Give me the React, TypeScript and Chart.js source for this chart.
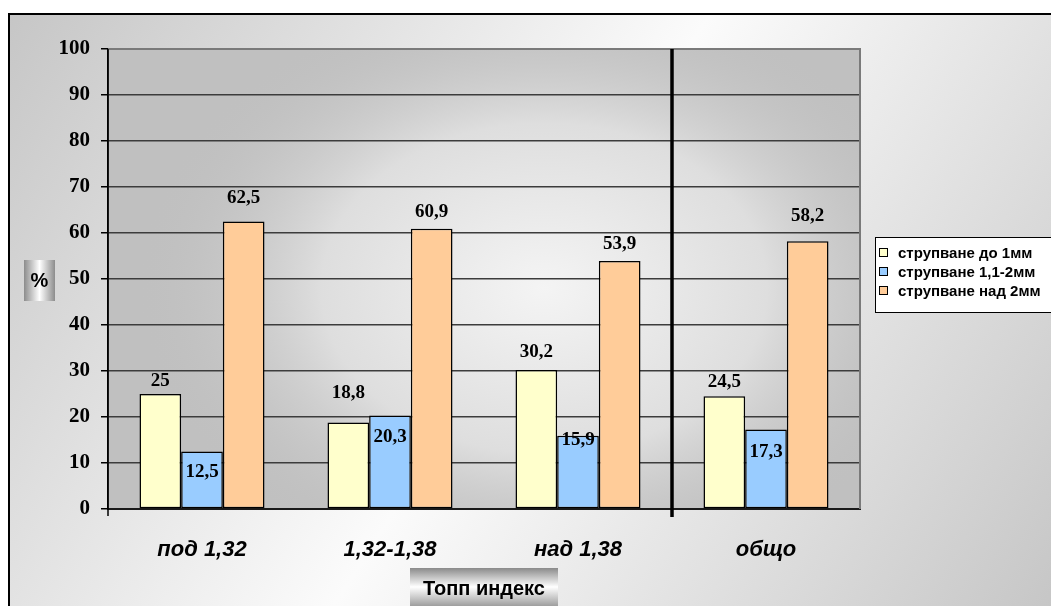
import React, { useEffect, useRef } from "react";
import { Chart, registerables } from "chart.js";

Chart.register(...registerables);

// Categories (Topp index ranges) and the share of each chipping class, %
const categories = ["под 1,32", "1,32-1,38", "над 1,38", "общо"];
const seriesNames = ["струпване до 1мм", "струпване 1,1-2мм", "струпване над 2мм"];
const upTo1mm = [25, 18.8, 30.2, 24.5];
const from1to2mm = [12.5, 20.3, 15.9, 17.3];
const over2mm = [62.5, 60.9, 53.9, 58.2];

const yMin = 0;
const yMax = 100;
const yStep = 10;

const axisTitleX = "Топп индекс";
const axisTitleY = "%";

const seriesColors = ["#FFFFCC", "#99CCFF", "#FFCC99"];

// Vertical nudges of the value labels, px from the top of each bar (+ = down)
const labelNudge = [
  [-13, -29.5, -18, -14],
  [20.5, 21.4, 4, 22.6],
  [-23.5, -17, -17, -25],
];

const SERIF = "'Liberation Serif', 'DejaVu Serif', serif";
const SANS = "'Liberation Sans', Arial, sans-serif";

const fmt = (v: number) => String(v).replace(".", ",");

const decorPlugin = {
  id: "decor",
  beforeDraw(chart: any) {
    const { ctx, width, height, chartArea: a } = chart;
    ctx.save();
    // outer chart background, diagonal gray-white-gray
    const g = ctx.createLinearGradient(8, 13, 1120, 720);
    g.addColorStop(0, "#c6c6c6");
    g.addColorStop(0.45, "#fbfbfb");
    g.addColorStop(1, "#bcbcbc");
    ctx.fillStyle = "#ffffff";
    ctx.fillRect(0, 0, width, height);
    ctx.fillStyle = g;
    ctx.fillRect(8, 13, width - 8, height - 13);
    ctx.strokeStyle = "#000";
    ctx.lineWidth = 2;
    ctx.beginPath();
    ctx.moveTo(9, height + 5);
    ctx.lineTo(9, 14);
    ctx.lineTo(width + 5, 14);
    ctx.stroke();

    // plot area: gray with a light centre
    ctx.fillStyle = "#c0c0c0";
    ctx.fillRect(a.left, a.top, a.right - a.left, a.bottom - a.top);
    ctx.beginPath();
    ctx.rect(a.left, a.top, a.right - a.left, a.bottom - a.top);
    ctx.clip();
    const cx = a.left + (a.right - a.left) * 0.58;
    const cy = a.top + (a.bottom - a.top) * 0.52;
    ctx.translate(cx, cy);
    ctx.scale(1.35, 1);
    const r = ctx.createRadialGradient(0, 0, 0, 0, 0, 300);
    r.addColorStop(0, "#f4f4f4");
    r.addColorStop(0.55, "#dedede");
    r.addColorStop(1, "rgba(192,192,192,0)");
    ctx.fillStyle = r;
    ctx.fillRect(-600, -400, 1200, 800);
    ctx.restore();
  },
  afterDatasetsDraw(chart: any) {
    const { ctx, chartArea: a, scales } = chart;
    const xs = scales.x;
    const ys = scales.y;
    ctx.save();

    // plot-area frame on top and right
    ctx.strokeStyle = "#7a7a7a";
    ctx.lineWidth = 2;
    ctx.beginPath();
    ctx.moveTo(a.left, a.top);
    ctx.lineTo(a.right, a.top);
    ctx.lineTo(a.right, a.bottom);
    ctx.stroke();

    // value axis continues slightly below zero
    ctx.strokeStyle = "#000";
    ctx.lineWidth = 1.5;
    ctx.beginPath();
    ctx.moveTo(a.left, a.top);
    ctx.lineTo(a.left, a.bottom + 7);
    ctx.stroke();

    // separator between the index groups and the total
    const sepX = (xs.getPixelForValue(2) + xs.getPixelForValue(3)) / 2;
    ctx.lineWidth = 3.5;
    ctx.beginPath();
    ctx.moveTo(sepX, a.top);
    ctx.lineTo(sepX, a.bottom + 8);
    ctx.stroke();

    // value labels
    ctx.fillStyle = "#000";
    ctx.font = `bold 19px ${SERIF}`;
    ctx.textAlign = "center";
    ctx.textBaseline = "middle";
    chart.data.datasets.forEach((ds: any, di: number) => {
      const meta = chart.getDatasetMeta(di);
      meta.data.forEach((bar: any, i: number) => {
        const v = ds.data[i];
        const top = ys.getPixelForValue(v);
        ctx.fillText(fmt(v), bar.x, top + labelNudge[di][i]);
      });
    });

    // legend
    const lx = 875;
    const ly = 237;
    ctx.fillStyle = "#ffffff";
    ctx.fillRect(lx, ly, 200, 75);
    ctx.strokeStyle = "#000";
    ctx.lineWidth = 1;
    ctx.strokeRect(lx + 0.5, ly + 0.5, 200, 75);
    ctx.font = `bold 15px ${SANS}`;
    ctx.textAlign = "left";
    chart.data.datasets.forEach((ds: any, di: number) => {
      const rowY = 253 + di * 19;
      ctx.fillStyle = ds.backgroundColor;
      ctx.fillRect(879.5, rowY - 4.5, 8, 8);
      ctx.strokeStyle = "#000";
      ctx.lineWidth = 1;
      ctx.strokeRect(879.5, rowY - 4.5, 8, 8);
      ctx.fillStyle = "#000";
      ctx.fillText(ds.label, 898, rowY + 0.5);
    });

    // axis titles in shaded boxes
    const gy = ctx.createLinearGradient(24, 0, 55, 0);
    gy.addColorStop(0, "#8c8c8c");
    gy.addColorStop(0.5, "#ffffff");
    gy.addColorStop(1, "#8c8c8c");
    ctx.fillStyle = gy;
    ctx.fillRect(24, 260, 31, 41);
    ctx.fillStyle = "#000";
    ctx.font = `bold 20px ${SANS}`;
    ctx.textAlign = "center";
    ctx.fillText(axisTitleY, 39.5, 281);

    const gx = ctx.createLinearGradient(0, 568, 0, 610);
    gx.addColorStop(0, "#8a8a8a");
    gx.addColorStop(0.45, "#ffffff");
    gx.addColorStop(1, "#8a8a8a");
    ctx.fillStyle = gx;
    ctx.fillRect(410, 568, 148, 42);
    ctx.fillStyle = "#000";
    ctx.font = `bold 20px ${SANS}`;
    ctx.fillText(axisTitleX, 484, 589);

    ctx.restore();
  },
};

export default function App() {
  const ref = useRef<HTMLCanvasElement | null>(null);

  useEffect(() => {
    if (!ref.current) return;
    const series = [upTo1mm, from1to2mm, over2mm];
    const chart = new Chart(ref.current, {
      type: "bar",
      data: {
        labels: categories,
        datasets: series.map((d, i) => ({
          label: seriesNames[i],
          data: d,
          backgroundColor: seriesColors[i],
          borderColor: "#000",
          borderWidth: 1.5,
          borderSkipped: false,
          barPercentage: 1,
          categoryPercentage: 0.665,
        })),
      },
      options: {
        responsive: false,
        animation: false,
        layout: { padding: { left: 0, top: 49, right: 191, bottom: 0 } },
        plugins: {
          legend: { display: false },
          tooltip: { enabled: false },
        },
        scales: {
          x: {
            grid: { display: false },
            border: { display: true, color: "#1a1a1a", width: 2 },
            ticks: {
              color: "#000",
              padding: 20,
              font: { family: SANS, size: 22, weight: "bold", style: "italic" },
            },
            afterFit: (s: any) => {
              s.height = 97;
            },
          },
          y: {
            min: yMin,
            max: yMax,
            ticks: {
              stepSize: yStep,
              color: "#000",
              padding: 11,
              font: { family: SERIF, size: 21, weight: "bold" },
            },
            grid: {
              color: "#3c3c3c",
              lineWidth: 1.5,
              tickLength: 7,
              tickColor: "#000",
            },
            border: { display: true, color: "#000", width: 1.5 },
            afterFit: (s: any) => {
              s.width = 108;
            },
          },
        },
      },
      plugins: [decorPlugin],
    });
    return () => chart.destroy();
  }, []);

  return (
    <div style={{ position: "fixed", left: 0, top: 0, width: 1051, height: 606 }}>
      <canvas ref={ref} width={1051} height={606} style={{ display: "block" }} />
    </div>
  );
}
